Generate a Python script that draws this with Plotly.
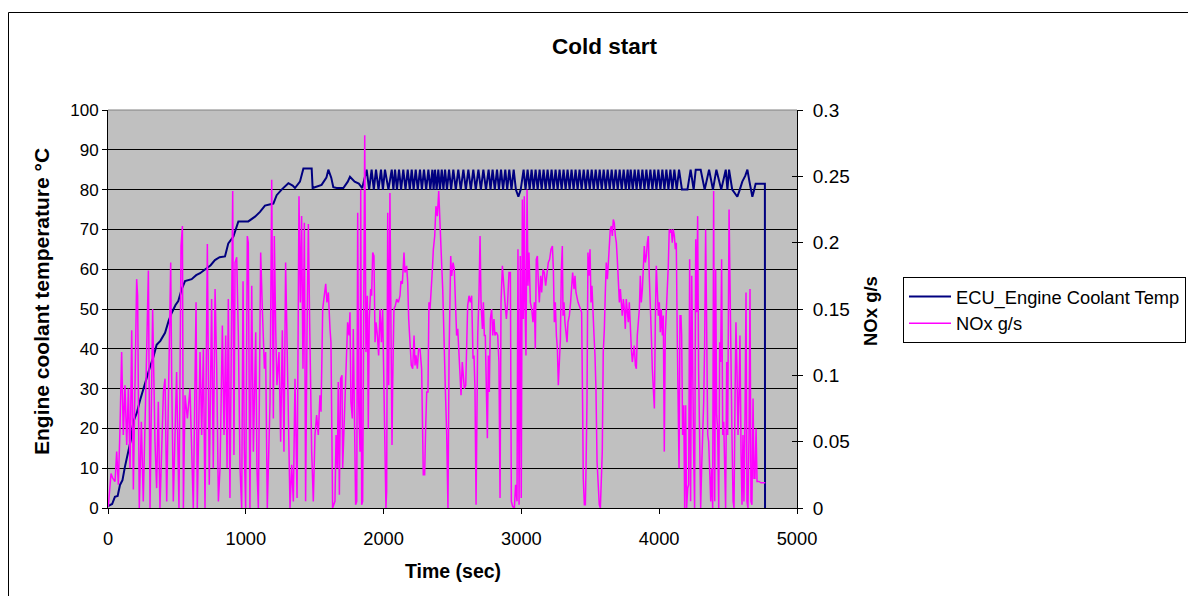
import plotly.graph_objects as go

# ---------------- data ----------------
# Engine coolant temperature (deg C) vs time (s)
coolant_time = [0, 30, 50, 70, 87, 105, 123, 148, 165, 184, 210, 232, 256, 280, 305, 330, 353, 380, 414, 440,
                462, 490, 510, 535, 559, 607, 640, 668, 716, 745, 776, 810, 849, 873, 910, 946, 1018, 1040, 1067, 1103,
                1139, 1200, 1224, 1260, 1309, 1340, 1357, 1393, 1418, 1478, 1485, 1550, 1585, 1599, 1620, 1635, 1660, 1708, 1740, 1756,
                1790, 1820, 1845,
                1877, 1895, 1913, 1929, 1945, 1963, 1981, 1995, 2010, 2035, 2059, 2071, 2083, 2097, 2112, 2127, 2143, 2159,
                2175, 2190, 2204, 2218, 2233, 2248, 2264, 2278, 2293, 2309, 2325, 2339, 2354, 2363, 2373, 2385, 2397, 2409,
                2422, 2434, 2446, 2460, 2475, 2490, 2506, 2524, 2542, 2560, 2579, 2597, 2615, 2633, 2651, 2669, 2688, 2706,
                2724, 2743, 2762, 2776, 2791, 2807, 2823, 2837, 2852, 2867, 2883, 2897, 2912, 2928, 2944, 2960, 2978, 2995,
                3016, 3030, 3045, 3060, 3074, 3089, 3103, 3118, 3132, 3147, 3161, 3176, 3190, 3205, 3219, 3234, 3248, 3263,
                3277, 3292, 3306, 3321, 3335, 3350, 3364, 3379, 3393, 3408, 3422, 3437, 3452, 3467, 3481, 3496, 3510, 3525,
                3539, 3554, 3568, 3583, 3597, 3612, 3626, 3641, 3655, 3670, 3684, 3699, 3713, 3728, 3742, 3757, 3771, 3782,
                3793, 3808, 3822, 3836, 3849, 3864, 3878, 3893, 3907, 3922, 3936, 3951, 3965, 3980, 3994, 4009, 4023, 4038,
                4052, 4067, 4081, 4096, 4110, 4127, 4144, 4165, 4190, 4205, 4228, 4250, 4265, 4301, 4330, 4362, 4390, 4415,
                4450, 4483, 4495, 4507, 4530, 4567, 4585, 4603, 4625, 4640, 4655, 4676, 4690, 4700, 4767, 4768]
coolant_temp = [0.5, 1, 2.8, 3, 5.8, 7, 10.4, 14.6, 17, 21.7, 24, 27, 30, 33, 35.5, 38, 41, 42, 44, 47,
                49, 51, 52, 55, 57, 57.5, 58.5, 59, 60.3, 61, 62.3, 63, 63.2, 66.5, 68.2, 72, 72, 72.5, 73.2, 74.4,
                76, 76.5, 78.6, 80, 81.6, 81, 80.4, 82, 85.3, 85.3, 80.4, 81.2, 83, 85, 83, 80.6, 80.4, 80.4, 82, 83.2,
                82, 81.5, 80.4,
                85, 80, 85, 80, 85, 80, 85, 80, 85, 80, 85, 80, 85, 80, 85, 80, 85, 80,
                85, 80, 85, 80, 85, 80, 85, 80, 85, 80, 85, 80, 85, 80, 85, 80, 85, 80,
                85, 80, 85, 80, 85, 80, 85, 80, 85, 80, 85, 80, 85, 80, 85, 80, 85, 80,
                85, 80, 85, 80, 85, 80, 85, 80, 85, 80, 85, 80, 85, 80, 85, 80, 78.2, 80,
                85, 80, 85, 80, 85, 80, 85, 80, 85, 80, 85, 80, 85, 80, 85, 80, 85, 80,
                85, 80, 85, 80, 85, 80, 85, 80, 85, 80, 85, 80, 85, 80, 85, 80, 85, 80,
                85, 80, 85, 80, 85, 80, 85, 80, 85, 80, 85, 80, 85, 80, 85, 80, 85, 80,
                85, 80, 85, 80, 85, 80, 85, 80, 85, 80, 85, 80, 85, 80, 85, 80, 85, 80,
                85, 80, 85, 80, 85, 80, 85, 80, 80, 80, 85, 80, 85, 85, 80, 85, 80, 85,
                80, 85, 80, 85, 80, 78.2, 80, 82, 83.5, 85, 82, 78.2, 80, 81.5, 81.5, 0]

# NOx mass flow (g/s) vs time (s), read segment by segment as (time, value)
nox_seg1 = [(2, 0.001), (22, 0.026), (34, 0.0225), (51, 0.02), (63, 0.0425), (75, 0.0175), (87, 0.06),
            (99, 0.1175), (111, 0.055), (123, 0.0925), (136, 0.0475), (148, 0.09), (160, 0.03), (172, 0.134),
            (184, 0.014), (208, 0.1725), (215, 0.16), (227, 0), (242, 0.065), (256, 0.005), (281, 0.12),
            (293, 0.179), (305, 0), (324, 0.15), (341, 0.05), (353, 0.015), (365, 0.08), (377, 0),
            (402, 0.0875), (414, 0.0975), (426, 0.005), (440, 0.105), (455, 0.185), (462, 0.1), (474, 0.005),
            (498, 0.1025), (515, 0), (530, 0.1975), (540, 0.2125), (547, 0), (559, 0.085), (576, 0.0675),
            (595, 0.09), (619, 0), (639, 0.155), (648, 0), (668, 0.1175), (680, 0.055), (692, 0.12), (704, 0),
            (721, 0.199), (735, 0.0175), (752, 0.1575), (764, 0.03)]
nox_seg2 = [(777, 0.165), (789, 0.105), (801, 0.005), (813, 0.03), (830, 0.1375), (842, 0.055), (854, 0.13),
            (864, 0.03), (873, 0.1575), (885, 0.0075), (897, 0.185), (905, 0.239), (914, 0.04), (922, 0.185),
            (934, 0.189), (946, 0.13), (958, 0.03), (970, 0), (980, 0.171), (989, 0.045), (999, 0),
            (1011, 0.205), (1018, 0.2), (1030, 0), (1043, 0.1675), (1055, 0.0425), (1072, 0.1325), (1081, 0.03),
            (1091, 0), (1108, 0.1925), (1120, 0.15), (1135, 0.105), (1144, 0.1175), (1156, 0), (1176, 0.08),
            (1188, 0.2475), (1200, 0.0675), (1207, 0.205), (1217, 0.135), (1226, 0.0925), (1241, 0.1175),
            (1253, 0.05), (1265, 0.134), (1277, 0.0425), (1289, 0.185), (1299, 0.13), (1309, 0.0675), (1321, 0),
            (1333, 0.0325), (1345, 0.005), (1357, 0.0975), (1372, 0.0075), (1386, 0.235), (1396, 0.155),
            (1405, 0.22), (1415, 0.105), (1425, 0.215), (1434, 0.005), (1444, 0.13), (1454, 0.214),
            (1463, 0.1425), (1478, 0.0425), (1490, 0.005), (1502, 0.055), (1514, 0.07), (1526, 0.055),
            (1538, 0.085), (1546, 0.0725), (1558, 0.15), (1570, 0.16), (1580, 0.169), (1589, 0.155),
            (1599, 0.1625), (1611, 0.135)]
nox_seg3 = [(1618, 0.125), (1630, 0), (1647, 0.005), (1655, 0.055), (1664, 0.03), (1671, 0.095), (1679, 0.01),
            (1688, 0.0975), (1698, 0.1), (1703, 0.03), (1720, 0.08), (1732, 0.1075), (1739, 0.14), (1749, 0.13),
            (1756, 0.1475), (1763, 0.08), (1773, 0.0675), (1780, 0.135), (1788, 0.055), (1797, 0.0025),
            (1805, 0.005), (1812, 0.2225), (1819, 0.08), (1829, 0.0425), (1834, 0.24), (1841, 0.0025),
            (1848, 0.005), (1855, 0.18), (1863, 0.281), (1872, 0.1175), (1882, 0.16), (1889, 0.06),
            (1896, 0.1425), (1906, 0.165), (1913, 0.16), (1921, 0.1925), (1930, 0.19), (1938, 0.125),
            (1945, 0.14), (1955, 0.13), (1964, 0.115), (1974, 0.15), (1984, 0.125), (1993, 0.15), (1998, 0.115),
            (2010, 0.0175), (2017, 0), (2022, 0.0125), (2030, 0.2225), (2037, 0.0925), (2046, 0.2375),
            (2054, 0.13), (2061, 0.0475), (2066, 0.095), (2075, 0.15), (2085, 0.1525), (2095, 0.1575),
            (2107, 0.155), (2119, 0.16), (2126, 0.171), (2136, 0.169), (2148, 0.1925), (2155, 0.1775),
            (2167, 0.1825), (2175, 0.17), (2182, 0.1425), (2192, 0.125), (2201, 0.1075), (2211, 0.105),
            (2221, 0.13), (2228, 0.1075), (2235, 0.115), (2245, 0.105), (2254, 0.12), (2264, 0.12),
            (2276, 0.105), (2288, 0.025), (2298, 0.025), (2305, 0.06), (2313, 0.0875), (2322, 0.0875),
            (2329, 0.155), (2337, 0.15), (2344, 0.16), (2354, 0.18), (2361, 0.195), (2371, 0.205),
            (2380, 0.2275), (2390, 0.22), (2400, 0.239), (2409, 0.21), (2419, 0.19), (2429, 0.165),
            (2438, 0.115), (2448, 0.09), (2458, 0.055), (2467, 0), (2475, 0.115)]
nox_seg4 = [(2487, 0.19), (2494, 0.175), (2504, 0.185), (2513, 0.18), (2523, 0.15), (2530, 0.13), (2538, 0.135),
            (2547, 0.115), (2554, 0.1075), (2562, 0.085), (2571, 0.11), (2579, 0.0975), (2586, 0.09),
            (2596, 0.0925), (2603, 0.13), (2610, 0.1525), (2620, 0.16), (2629, 0.155), (2639, 0.16),
            (2649, 0.1125), (2656, 0.115), (2663, 0.09), (2671, 0.0025), (2675, 0.0375), (2683, 0.13),
            (2692, 0.16), (2700, 0.205), (2707, 0.155), (2717, 0.135), (2724, 0.155), (2731, 0.13), (2738, 0.13),
            (2746, 0.065), (2753, 0.0525), (2760, 0.115), (2767, 0.0875), (2775, 0.1425), (2784, 0.15),
            (2792, 0.13), (2801, 0.1425), (2808, 0.13), (2818, 0.1325), (2828, 0.13), (2837, 0.11),
            (2845, 0.0075), (2852, 0.155), (2862, 0.1825), (2871, 0.165), (2881, 0.155), (2891, 0.1425),
            (2900, 0.155), (2910, 0.1775), (2920, 0.1775), (2927, 0.005), (2937, 0.001), (2949, 0),
            (2958, 0.0175), (2968, 0.005), (2975, 0.195), (2983, 0.0025), (2992, 0.19), (2999, 0.0075),
            (3007, 0.2325), (3014, 0.1425), (3021, 0.235), (3026, 0.155), (3033, 0.115), (3041, 0.24),
            (3048, 0.1675), (3055, 0.1925), (3065, 0.155), (3075, 0.15), (3084, 0.14), (3094, 0.155),
            (3101, 0.12), (3108, 0.1875), (3116, 0.19), (3123, 0.17), (3130, 0.155), (3140, 0.175),
            (3147, 0.1625), (3157, 0.18), (3166, 0.1775), (3176, 0.1675), (3186, 0.1775), (3195, 0.185),
            (3205, 0.1875), (3215, 0.195), (3225, 0.1975), (3232, 0.18), (3239, 0.14), (3246, 0.155),
            (3254, 0.13), (3261, 0.12), (3268, 0.0925), (3275, 0.115), (3283, 0.1275), (3290, 0.18),
            (3297, 0.1975)]
nox_seg5 = [(3302, 0.145), (3309, 0.155), (3316, 0.14), (3324, 0.13), (3331, 0.125), (3338, 0.14), (3348, 0.145),
            (3357, 0.155), (3365, 0.165), (3372, 0.1775), (3382, 0.165), (3389, 0.175), (3396, 0.1625),
            (3403, 0.1575), (3411, 0.155), (3420, 0.1525), (3430, 0.15), (3437, 0.1475), (3444, 0.08),
            (3449, 0.0225), (3457, 0.0025), (3464, 0.0025), (3469, 0.03), (3476, 0.08), (3483, 0.1925),
            (3490, 0.175), (3498, 0.195), (3505, 0.155), (3512, 0.1675), (3519, 0.145), (3527, 0.13),
            (3534, 0.115), (3541, 0.09), (3549, 0.035), (3558, 0.0175), (3565, 0.0025), (3573, 0), (3580, 0.03),
            (3587, 0.0425), (3594, 0.1175), (3602, 0.135), (3609, 0.1625), (3616, 0.185), (3624, 0.1725),
            (3631, 0.1875), (3638, 0.1975), (3645, 0.21), (3653, 0.2125), (3660, 0.205), (3667, 0.2175),
            (3674, 0.215), (3682, 0.205), (3689, 0.2), (3696, 0.1875), (3703, 0.175), (3711, 0.155),
            (3718, 0.165), (3725, 0.155), (3732, 0.145), (3740, 0.1575), (3747, 0.15), (3754, 0.135),
            (3761, 0.1575), (3769, 0.1475), (3776, 0.14), (3783, 0.155), (3790, 0.13), (3798, 0.12), (3805, 0.11),
            (3812, 0.115), (3819, 0.1225), (3827, 0.1075), (3834, 0.105), (3841, 0.13), (3848, 0.1375),
            (3856, 0.15), (3863, 0.175), (3870, 0.155), (3878, 0.165), (3885, 0.19), (3892, 0.1975),
            (3899, 0.185), (3907, 0.19), (3914, 0.2), (3921, 0.205), (3928, 0.175), (3936, 0.155), (3943, 0.13),
            (3950, 0.105), (3957, 0.085), (3965, 0.075), (3972, 0.1425), (3979, 0.1825), (3986, 0.165),
            (3994, 0.145), (4001, 0.155), (4008, 0.1325), (4015, 0.15), (4023, 0.13), (4030, 0.145),
            (4037, 0.0425), (4044, 0.13), (4052, 0.15), (4059, 0.155), (4066, 0.1825), (4073, 0.21),
            (4081, 0.2075), (4088, 0.21), (4095, 0.2), (4102, 0.21), (4110, 0.205), (4117, 0.195), (4124, 0.2),
            (4131, 0.13), (4139, 0.035)]
nox_seg6 = [(4144, 0.03), (4151, 0.145), (4158, 0.145), (4163, 0.13), (4170, 0.055), (4178, 0.0775), (4185, 0),
            (4192, 0.0775), (4199, 0), (4207, 0.015), (4214, 0.0175), (4221, 0.1875), (4228, 0.005),
            (4236, 0.175), (4243, 0.0875), (4250, 0.0425), (4257, 0), (4265, 0.2025), (4272, 0.1475),
            (4279, 0.22), (4286, 0.105), (4294, 0.0175), (4301, 0), (4308, 0.03), (4315, 0.05), (4323, 0.08),
            (4330, 0.125), (4337, 0.21), (4345, 0.13), (4352, 0.055), (4359, 0.05), (4366, 0.0175),
            (4374, 0.005), (4381, 0.03), (4388, 0), (4395, 0.239), (4403, 0.005), (4410, 0.18), (4417, 0.07),
            (4424, 0.06), (4432, 0), (4439, 0.125), (4446, 0.11), (4453, 0.1875), (4461, 0.055), (4468, 0.065),
            (4475, 0.03), (4482, 0), (4490, 0.11), (4497, 0.055), (4507, 0.225), (4514, 0.155), (4521, 0.105),
            (4528, 0.055), (4536, 0.005), (4543, 0), (4550, 0.08), (4557, 0.14), (4565, 0.1), (4572, 0.055),
            (4579, 0.085), (4586, 0.13), (4594, 0.0425), (4601, 0.0025), (4608, 0.055), (4615, 0.005),
            (4623, 0.07), (4630, 0.1625), (4637, 0.005), (4644, 0), (4652, 0.055), (4659, 0.165), (4666, 0.005),
            (4673, 0.0025), (4681, 0.0825), (4688, 0.0225), (4695, 0.0225), (4703, 0.06), (4710, 0.02),
            (4724, 0.02), (4739, 0.019), (4756, 0.019), (4770, 0.019)]

x_ticks = [0, 1000, 2000, 3000, 4000, 5000]
y1_ticks = [0, 10, 20, 30, 40, 50, 60, 70, 80, 90, 100]
y2_ticks = [0, 0.05, 0.1, 0.15, 0.2, 0.25, 0.3]

nox_pairs = nox_seg1 + nox_seg2 + nox_seg3 + nox_seg4 + nox_seg5 + nox_seg6
nox_time = [p[0] for p in nox_pairs]
nox_gs = [p[1] for p in nox_pairs]

# ---------------- figure ----------------
FONT = "Arial, 'Liberation Sans', sans-serif"
W, H = 1188, 596
L, R, T, B = 108, 797, 110, 508


def px_x(px):
    return (px - L) / (R - L)


def px_y(py):
    return (B - py) / (B - T)


fig = go.Figure()
fig.add_trace(go.Scatter(x=coolant_time, y=coolant_temp, mode="lines",
                         name="ECU_Engine Coolant Temp",
                         line=dict(color="#000080", width=2)))
fig.add_trace(go.Scatter(x=nox_time, y=nox_gs, mode="lines", name="NOx g/s", yaxis="y2",
                         line=dict(color="#FF00FF", width=1.5)))

axis_common = dict(showline=True, linecolor="black", linewidth=1, zeroline=False, tickcolor="black")

fig.update_layout(
    width=W, height=H,
    margin=dict(l=L, r=W - R, t=T, b=H - B, autoexpand=False),
    paper_bgcolor="white", plot_bgcolor="#C0C0C0",
    font=dict(family=FONT, color="black"),
    showlegend=True,
    legend=dict(x=px_x(903), y=px_y(277), xanchor="left", yanchor="top",
                bgcolor="white", bordercolor="black", borderwidth=1, itemwidth=42,
                font=dict(family=FONT, size=18.3, color="black"), tracegroupgap=0),
    xaxis=dict(range=[0, 5000], tickvals=x_ticks, ticks="outside", ticklen=5, showgrid=False,
               ticklabelstandoff=9, tickfont=dict(family=FONT, size=18.3, color="black"), **axis_common),
    yaxis=dict(range=[0, 100], tickvals=y1_ticks, ticks="outside", ticklen=5, showgrid=True,
               gridcolor="black", gridwidth=1, ticklabelstandoff=0,
               tickfont=dict(family=FONT, size=17, color="black"), **axis_common),
    yaxis2=dict(range=[0, 0.3], tickvals=y2_ticks, overlaying="y", side="right", ticks="outside",
                ticklen=5, showgrid=False, ticklabelstandoff=6,
                tickfont=dict(family=FONT, size=19, color="black"), **axis_common),
    yaxis3=dict(range=[0, 0.3], tickvals=y2_ticks, overlaying="y", side="right", ticks="inside",
                ticklen=5, showgrid=False, showticklabels=False, showline=False, tickcolor="black",
                zeroline=False),
)

# invisible helper trace so yaxis3 (inside tick marks) is drawn
fig.add_trace(go.Scatter(x=[None], y=[None], yaxis="y3", showlegend=False, hoverinfo="skip"))

annotations = [
    dict(text="<b>Cold start</b>", x=px_x(605), y=px_y(47), font=dict(size=22.5)),
    dict(text="<b>Time (sec)</b>", x=px_x(453), y=px_y(571), font=dict(size=19.5)),
    dict(text="<b>Engine coolant temperature °C</b>", x=px_x(41), y=px_y(302), textangle=-90,
         font=dict(size=21)),
    dict(text="<b>NOx g/s</b>", x=px_x(870), y=px_y(311), textangle=-90, font=dict(size=18.5)),
]
for a in annotations:
    a.update(xref="paper", yref="paper", showarrow=False, xanchor="center", yanchor="middle")
    a["font"].update(family=FONT, color="black")
fig.update_layout(annotations=annotations)

fig.update_layout(shapes=[
    # gray top border of the plot area
    dict(type="line", xref="paper", yref="paper", x0=0, x1=1, y0=1, y1=1,
         line=dict(color="#808080", width=1), layer="above"),
    # outer chart border
    dict(type="rect", xref="paper", yref="paper", x0=px_x(8.5), x1=px_x(1220), y0=px_y(630), y1=px_y(12.5),
         line=dict(color="black", width=1), fillcolor="rgba(0,0,0,0)", layer="below"),
])

fig.write_html("out.html")
